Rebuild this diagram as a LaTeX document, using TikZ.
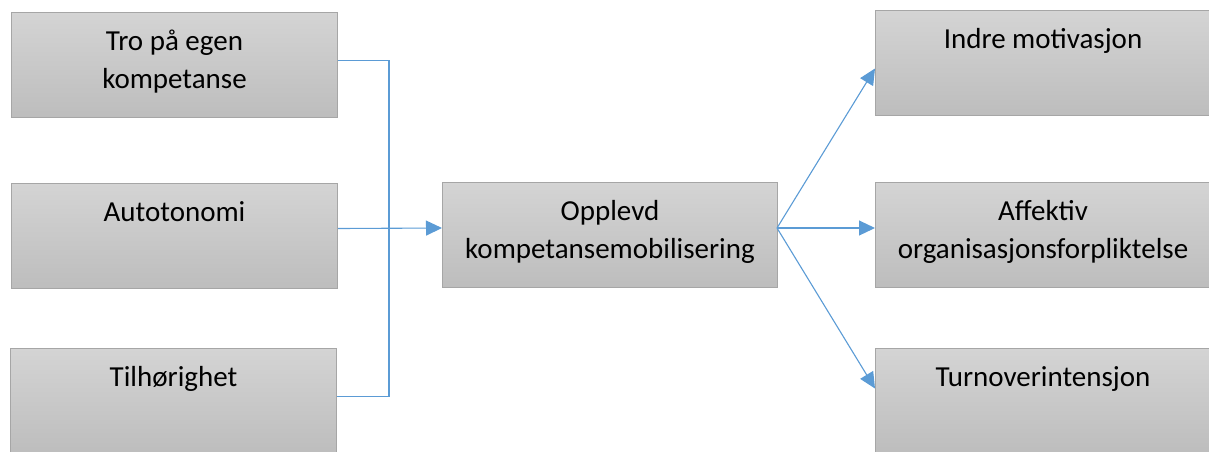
\documentclass[tikz,border=0pt]{standalone}
\usepackage{fontspec}
\setmainfont{Carlito}
\usetikzlibrary{arrows.meta,calc}
\definecolor{boxline}{HTML}{A6A6A6}
\definecolor{boxtop}{HTML}{D4D4D4}
\definecolor{boxbot}{HTML}{BDBDBD}
\definecolor{conncol}{HTML}{5B9BD5}
\begin{document}
\begin{tikzpicture}[x=1pt,y=-1pt,
  boxnode/.style={draw=boxline, line width=1pt, top color=boxtop, bottom color=boxbot,
    inner sep=0pt, anchor=north west, minimum height=105pt},
  narrowbox/.style={boxnode, minimum width=326pt},
  widebox/.style={boxnode, minimum width=335pt},
  label/.style={anchor=north, inner sep=0pt, align=center,
    font=\fontsize{29}{38}\selectfont},
  conn/.style={draw=conncol, line width=1.1pt},
  arr/.style={conn, -{Triangle[length=16pt,width=15pt]}}]
\useasboundingbox (0,0) rectangle (1209,451);
% boxes
\node[narrowbox] (l1) at (11,12) {};
\node[narrowbox] (l2) at (11,183) {};
\node[narrowbox] (l3) at (10,348) {};
\node[widebox] (m) at (442,182) {};
\node[widebox] (r1) at (875,10) {};
\node[widebox] (r2) at (875,182) {};
\node[widebox] (r3) at (875,348) {};
% texts
\node[label] (tl1) at ([yshift=-10pt]l1.north) {\rule{0pt}{28pt}Tro på egen\\kompetanse};
\node[label] (tl2) at ([yshift=-10pt]l2.north) {\rule{0pt}{28pt}Autotonomi};
\node[label] (tl3) at ([yshift=-10pt]l3.north) {\rule{0pt}{28pt}Tilhørighet};
\node[label] (tm) at ([yshift=-10pt]m.north) {\rule{0pt}{28pt}Opplevd\\kompetansemobilisering};
\node[label] (tr1) at ([yshift=-10pt]r1.north) {\rule{0pt}{28pt}Indre motivasjon};
\node[label] (tr2) at ([yshift=-10pt]r2.north) {\rule{0pt}{28pt}Affektiv\\organisasjonsforpliktelse};
\node[label] (tr3) at ([yshift=-10pt]r3.north) {\rule{0pt}{28pt}Turnoverintensjon};
% junction
\coordinate (j) at (389,228);
\coordinate (s) at (777,228);
\draw[conn] ([yshift=4.5pt]l1.east) -| (j);
\draw[conn] ([yshift=4.5pt]l3.east) -| (j);
\draw[arr] ([yshift=7.5pt]l2.east) -- (j -| m.west);
\draw[arr] (s) -- ([yshift=-5.5pt]r1.west);
\draw[arr] (s) -- (s -| r2.west);
\draw[arr] (s) -- ([yshift=12.5pt]r3.west);
\end{tikzpicture}
\end{document}
